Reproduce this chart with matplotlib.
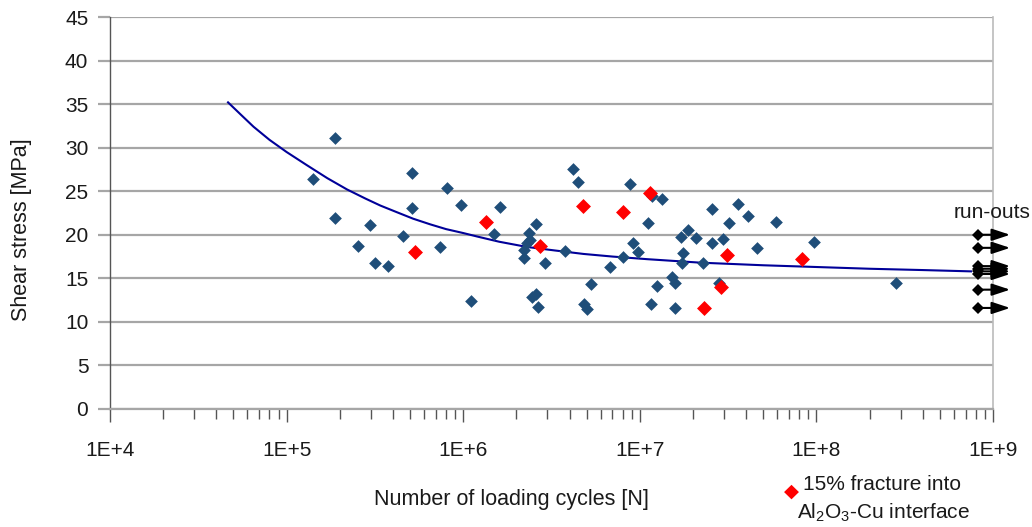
import matplotlib
matplotlib.use("Agg")
import matplotlib.pyplot as plt
from matplotlib.ticker import FixedLocator, FixedFormatter, LogLocator, NullFormatter

plt.rcParams['font.family'] = ['Liberation Sans', 'DejaVu Sans']
plt.rcParams['mathtext.default'] = 'regular'

# ---- data ----
blue_N = [1.41e5, 1.88e5, 1.88e5, 2.53e5, 2.97e5, 3.16e5, 3.75e5, 4.56e5, 5.13e5, 5.13e5,
          7.4e5, 8.1e5, 9.7e5, 1.11e6, 1.49e6, 1.61e6,
          4.19e6, 4.47e6, 2.58e6, 2.36e6, 2.39e6, 2.3e6, 2.2e6, 2.2e6, 2.9e6, 3.77e6,
          2.45e6, 2.6e6, 2.65e6, 4.83e6, 5.0e6, 5.3e6, 6.8e6, 8.0e6, 8.8e6, 9.2e6, 9.8e6,
          1.11e7, 1.18e7, 1.34e7, 1.16e7, 1.25e7, 1.52e7, 1.58e7, 1.58e7, 1.71e7, 1.87e7,
          2.08e7, 1.75e7, 1.73e7, 2.56e7, 3.6e7, 4.1e7, 3.2e7, 5.9e7, 2.56e7, 2.96e7,
          4.6e7, 9.7e7, 2.28e7, 2.8e7, 2.83e8]
blue_S = [26.4, 31.1, 21.9, 18.7, 21.1, 16.8, 16.4, 19.9, 27.1, 23.1,
          18.6, 25.4, 23.4, 12.4, 20.1, 23.2,
          27.5, 26.1, 21.2, 20.2, 19.4, 19.1, 18.3, 17.3, 16.8, 18.1,
          12.9, 13.2, 11.7, 12.1, 11.5, 14.3, 16.3, 17.4, 25.8, 19.0, 18.0,
          21.4, 24.4, 24.1, 12.1, 14.1, 15.2, 14.5, 11.6, 19.7, 20.5,
          19.6, 17.9, 16.8, 23.0, 23.5, 22.2, 21.4, 21.5, 19.1, 19.5,
          18.5, 19.2, 16.8, 14.5, 14.5]

red_N = [5.33e5, 1.35e6, 2.72e6, 4.76e6, 8.0e6, 1.14e7, 3.12e7, 8.3e7, 2.88e7, 2.31e7]
red_S = [18.0, 21.5, 18.7, 23.3, 22.6, 24.8, 17.7, 17.2, 14.0, 11.6]

fit_N = [4.66e4, 5.5e4, 6.5e4, 8e4, 1e5, 1.3e5, 1.7e5, 2.2e5, 2.8e5, 3.4e5, 4.2e5,
         5.2e5, 6.5e5, 8e5, 1e6, 1.2e6, 1.6e6, 2.3e6, 3.3e6, 4.8e6, 7e6, 1.1e7,
         2.2e7, 5e7, 1e8, 2e8, 4e8, 7.5e8]
fit_S = [35.2, 33.8, 32.4, 30.9, 29.5, 28.0, 26.5, 25.2, 24.15, 23.35, 22.6,
         21.85, 21.2, 20.65, 20.2, 19.8, 19.2, 18.6, 18.2, 17.8, 17.5, 17.2,
         16.8, 16.5, 16.3, 16.1, 15.95, 15.8]

runout_N = 8.2e8
runout_end_N = 1.25e9
runout_S = [20.0, 18.5, 16.4, 16.1, 15.8, 15.5, 13.7, 11.6]

x_ticks = [1e4, 1e5, 1e6, 1e7, 1e8, 1e9]
x_labels = ["1E+4", "1E+5", "1E+6", "1E+7", "1E+8", "1E+9"]
y_ticks = list(range(0, 46, 5))

# ---- figure ----
fig = plt.figure(figsize=(10.32, 5.27), dpi=100)
ax = fig.add_axes([110/1032, 1-409/527, (993-110)/1032, (409-17)/527])
ax.set_xscale('log')
ax.set_xlim(1e4, 1e9)
ax.set_ylim(0, 45)

grid_c = '#a6a6a6'
txt_c = '#1a1a1a'
ax.yaxis.set_major_locator(FixedLocator(y_ticks))
ax.grid(axis='y', color=grid_c, lw=1.6, zorder=0)
ax.tick_params(axis='y', length=8.6, width=1.6, color=grid_c, labelsize=15,
               labelcolor=txt_c, pad=7)
ax.xaxis.set_major_locator(FixedLocator(x_ticks))
ax.xaxis.set_major_formatter(FixedFormatter(x_labels))
ax.xaxis.set_minor_locator(LogLocator(base=10, subs=range(2, 10)))
ax.xaxis.set_minor_formatter(NullFormatter())
ax.tick_params(axis='x', which='major', length=9, width=1.0, color='#555555',
               labelsize=15, labelcolor=txt_c, pad=14)
ax.tick_params(axis='x', which='minor', length=7, width=1.0, color='#555555')

ax.spines['top'].set_visible(False)
ax.spines['left'].set_color('#555555')
ax.spines['left'].set_linewidth(1.0)
ax.spines['bottom'].set_color(grid_c)
ax.spines['bottom'].set_linewidth(1.6)
ax.spines['right'].set_color('#bbbbbb')
ax.spines['right'].set_linewidth(1.2)

ax.plot(fit_N, fit_S, color='#000099', lw=1.5, zorder=2)
ax.scatter(blue_N, blue_S, marker='D', s=42, color='#1f4e79', zorder=3, linewidths=0)
ax.scatter(red_N, red_S, marker='D', s=58, color='#ff0000', zorder=4, linewidths=0)

for s in runout_S:
    ax.annotate('', xy=(runout_end_N, s), xytext=(runout_N, s),
                arrowprops=dict(arrowstyle='-|>,head_length=1.0,head_width=0.33',
                                color='black', lw=1.5, mutation_scale=11,
                                shrinkA=0, shrinkB=0),
                annotation_clip=False, zorder=5)
    ax.plot([runout_N], [s], marker='D', ms=6.5, color='black', mew=0,
            clip_on=False, zorder=6)

fig.text(992/1032, 1-212/527, 'run-outs', fontsize=15,
         ha='center', va='center', color=txt_c)

fig.text(22/1032, 1-230/527, 'Shear stress [MPa]', fontsize=15.5, rotation=90,
         ha='center', va='center', color=txt_c)
fig.text(511/1032, 1-500/527, 'Number of loading cycles [N]', fontsize=15.5,
         ha='center', va='center', color=txt_c)

fig.text(791/1032, 1-491/527, u'\u25c6', color='#ff0000', fontsize=14,
         ha='center', va='center', family=['DejaVu Sans'])
fig.text(803/1032, 1-485/527, '15% fracture into', fontsize=15, ha='left',
         va='center', color=txt_c)
fig.text(797/1032, 1-513/527, 'Al$_2$O$_3$-Cu interface', fontsize=15, ha='left',
         va='center', color=txt_c)

fig.savefig('out.png', dpi=100)
